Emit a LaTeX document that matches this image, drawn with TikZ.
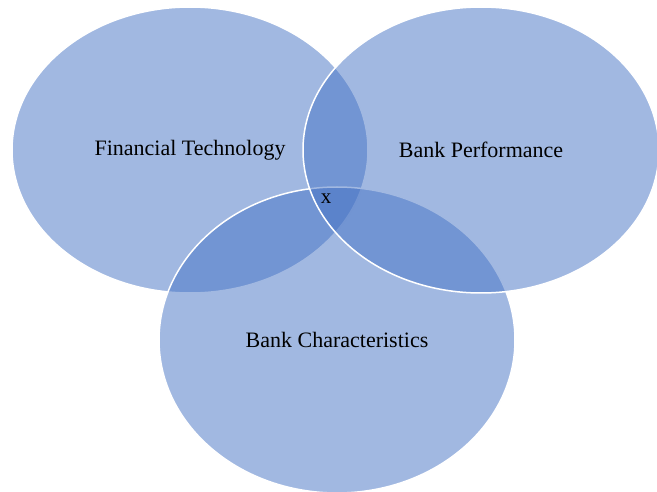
\documentclass[tikz,border=0pt]{standalone}
\usepackage{fontspec}
\setmainfont{Liberation Serif}
\usetikzlibrary{shapes.geometric}
\definecolor{vennblue}{RGB}{68,114,196}
\begin{document}
\begin{tikzpicture}[x=1pt, y=-1pt,
  setellipse/.style={ellipse, fill=vennblue, fill opacity=0.5, text opacity=1,
    draw=white, line width=1.5pt, inner sep=0pt,
    minimum width=356pt, minimum height=286pt,
    font=\fontsize{22}{26}\selectfont},
  setlabel/.style={font=\fontsize{21}{25}\selectfont, inner sep=0pt}]
  \useasboundingbox (0,0) rectangle (657,492);

  % Three overlapping sets
  \node[setellipse] (fintech) at (190,150) {Financial Technology};
  \node[setellipse, minimum height=306pt] (charac) at (337,340) {Bank Characteristics};
  \node[setellipse] (perf) at (481,150) {Bank Performance};

  % Common part of all three
  \node[setlabel] (common) at (326,199) {x};
\end{tikzpicture}
\end{document}
